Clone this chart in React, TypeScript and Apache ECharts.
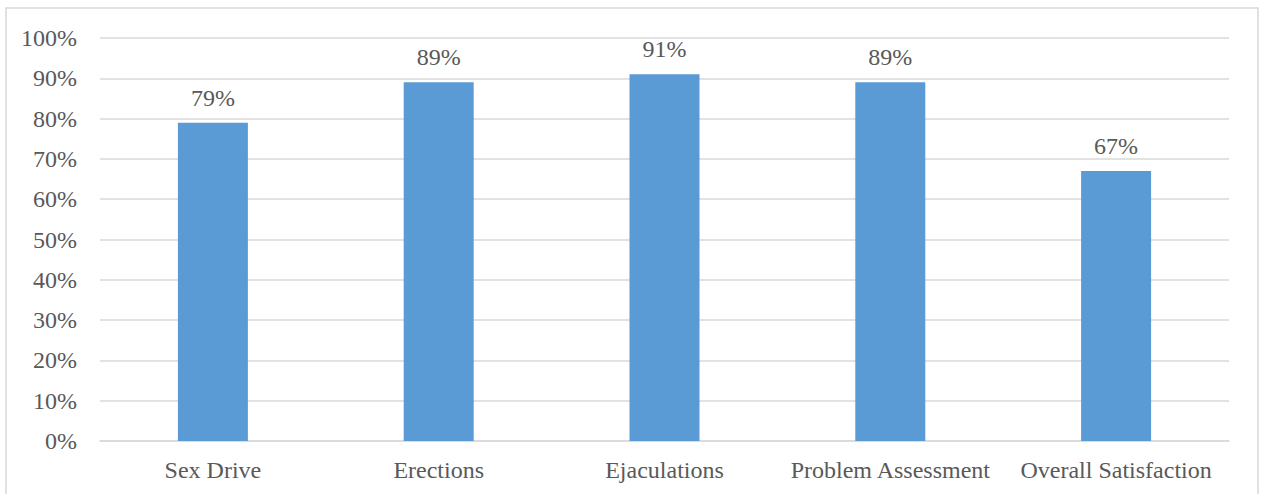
import React, { useEffect, useRef } from "react";
import * as echarts from "echarts";

const categories = ["Sex Drive", "Erections", "Ejaculations", "Problem Assessment", "Overall Satisfaction"];
const percentValues = [79, 89, 91, 89, 67];
const yTicks = [0, 10, 20, 30, 40, 50, 60, 70, 80, 90, 100];

const TEXT = "#595959";
const FONT = "Liberation Serif";
const FONT_SIZE = 24;

export default function App() {
  const ref = useRef<HTMLDivElement>(null);

  useEffect(() => {
    if (!ref.current) return;
    const chart = echarts.init(ref.current, undefined, { renderer: "svg" });
    chart.setOption({
      animation: false,
      backgroundColor: "#ffffff",
      graphic: [
        {
          type: "rect",
          shape: { x: 6, y: 8, width: 1252, height: 500 },
          style: { fill: "none", stroke: "#d9d9d9", lineWidth: 1.5 },
          silent: true,
        },
      ],
      grid: { left: 100, right: 33, top: 38, bottom: 53, containLabel: false },
      xAxis: {
        type: "category",
        data: categories,
        axisLine: { show: true, lineStyle: { color: "#d9d9d9", width: 1.5 } },
        axisTick: { show: false },
        axisLabel: {
          interval: 0,
          color: TEXT,
          fontFamily: FONT,
          fontSize: FONT_SIZE,
          margin: 17,
        },
      },
      yAxis: {
        type: "value",
        min: yTicks[0],
        max: yTicks[yTicks.length - 1],
        interval: 10,
        axisLine: { show: false },
        axisTick: { show: false },
        splitLine: { lineStyle: { color: "#d9d9d9", width: 1.5 } },
        axisLabel: {
          color: TEXT,
          fontFamily: FONT,
          fontSize: FONT_SIZE,
          margin: 23,
          formatter: (v: number) => `${v}%`,
        },
      },
      series: [
        {
          type: "bar",
          data: percentValues,
          barWidth: 70,
          itemStyle: { color: "#5b9bd5" },
          label: {
            show: true,
            position: "top",
            distance: 13,
            color: TEXT,
            fontFamily: FONT,
            fontSize: FONT_SIZE,
            formatter: (p: any) => `${p.value}%`,
          },
        },
      ],
    });
    return () => chart.dispose();
  }, []);

  return (
    <div
      ref={ref}
      style={{ position: "fixed", left: 0, top: 0, width: 1262, height: 494 }}
    />
  );
}
